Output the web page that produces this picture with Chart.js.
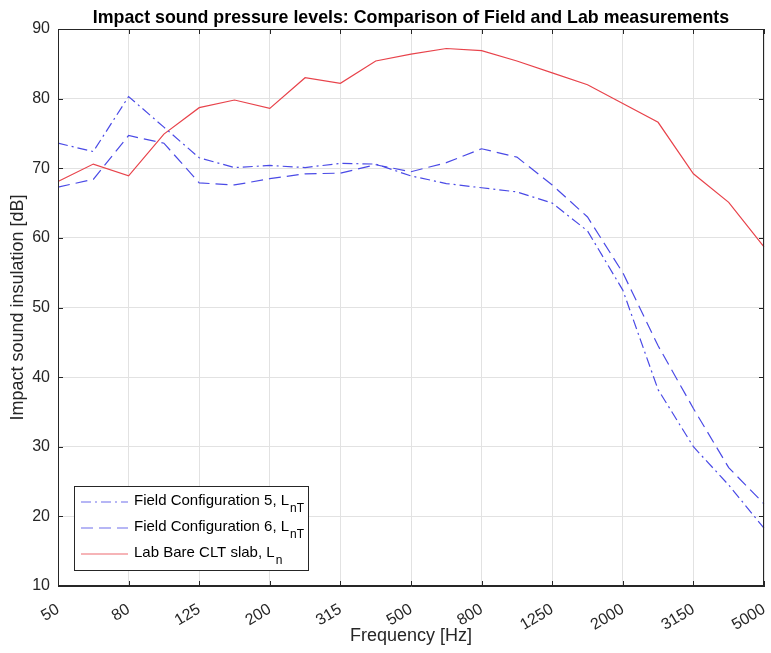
<!DOCTYPE html>
<html>
<head>
<meta charset="utf-8">
<script src="https://cdn.jsdelivr.net/npm/chart.js@4.4.0/dist/chart.umd.min.js"></script>
<style>
    html, body { margin: 0; padding: 0; background: #fff; }
</style>
</head>
<body>
<canvas id="chart" width="771" height="653"></canvas>
<script>
// Third-octave band centre frequencies [Hz]
const frequencies = ['50', '63', '80', '100', '125', '160', '200', '250', '315', '400', '500',
    '630', '800', '1000', '1250', '1600', '2000', '2500', '3150', '4000', '5000'];

// Levels [dB]
const fieldConfig5 = [73.6, 72.4, 80.3, 75.9, 71.5, 70.1, 70.4, 70.1, 70.7, 70.6, 68.9,
    67.8, 67.2, 66.6, 65.0, 61.0, 52.5, 38.2, 30.0, 24.5, 18.3];
const fieldConfig6 = [67.3, 68.4, 74.7, 73.6, 67.9, 67.6, 68.5, 69.2, 69.3, 70.5, 69.5,
    70.8, 72.8, 71.6, 67.6, 63.0, 55.0, 44.5, 35.5, 27.0, 21.8];
const labBareClt = [68.1, 70.6, 68.9, 74.9, 78.7, 79.8, 78.6, 83.0, 82.2, 85.4, 86.4,
    87.2, 86.9, 85.4, 83.7, 82.0, 79.3, 76.6, 69.2, 65.1, 58.7];

const yTicks = [10, 20, 30, 40, 50, 60, 70, 80, 90];

const FONT = "'Liberation Sans', Arial, Helvetica, sans-serif";
const AXIS_COLOR = '#262626';
const GRID_COLOR = '#e2e2e2';
const BLUE = '#4a4ae6';
const RED = '#e8434b';
const DASH_DOT = [10, 4, 2, 4];
const DASHED = [12, 6];

// Series for the legend box
const legendItems = [
    { text: 'Field Configuration 5, L', sub: 'nT', color: BLUE, dash: DASH_DOT },
    { text: 'Field Configuration 6, L', sub: 'nT', color: BLUE, dash: DASHED },
    { text: 'Lab Bare CLT slab, L', sub: 'n', color: RED, dash: [] }
];

// Title, box, inward ticks and legend drawn on top of the chart
const matlabLook = {
    id: 'matlabLook',
    afterDatasetsDraw(chart) {
        const ctx = chart.ctx;
        const area = chart.chartArea;
        const xScale = chart.scales.x;
        const yScale = chart.scales.y;

        ctx.save();

        // Box
        ctx.strokeStyle = AXIS_COLOR;
        ctx.lineWidth = 1;
        ctx.setLineDash([]);
        ctx.strokeRect(Math.round(area.left) + 0.5, Math.round(area.top) + 0.5,
            Math.round(area.right - area.left) - 1, Math.round(area.bottom - area.top) - 1);

        // Inward tick marks
        const tickLen = 5;
        ctx.beginPath();
        frequencies.forEach((f, i) => {
            if (i % 2 !== 0) return;
            const x = Math.round(xScale.getPixelForValue(i)) + 0.5;
            ctx.moveTo(x, area.bottom);
            ctx.lineTo(x, area.bottom - tickLen);
            ctx.moveTo(x, area.top);
            ctx.lineTo(x, area.top + tickLen);
        });
        yTicks.forEach(v => {
            const y = Math.round(yScale.getPixelForValue(v)) + 0.5;
            ctx.moveTo(area.left, y);
            ctx.lineTo(area.left + tickLen, y);
            ctx.moveTo(area.right, y);
            ctx.lineTo(area.right - tickLen, y);
        });
        ctx.stroke();

        // Legend box
        const bx = 74.5, by = 486.5, bw = 234, bh = 84;
        ctx.fillStyle = '#ffffff';
        ctx.fillRect(bx, by, bw, bh);
        ctx.strokeStyle = AXIS_COLOR;
        ctx.strokeRect(bx, by, bw, bh);

        legendItems.forEach((item, i) => {
            const rowY = 502 + i * 26;
            ctx.strokeStyle = item.color;
            ctx.globalAlpha = 0.8;
            ctx.lineWidth = 1.2;
            ctx.setLineDash(item.dash);
            ctx.beginPath();
            ctx.moveTo(81, rowY);
            ctx.lineTo(128, rowY);
            ctx.stroke();
            ctx.setLineDash([]);
            ctx.globalAlpha = 1;

            ctx.fillStyle = '#000000';
            ctx.textAlign = 'left';
            ctx.textBaseline = 'alphabetic';
            ctx.font = '15px ' + FONT;
            ctx.fillText(item.text, 134, rowY + 3);
            const w = ctx.measureText(item.text).width;
            ctx.font = '12px ' + FONT;
            ctx.fillText(item.sub, 134 + w + 1, rowY + 10);
        });

        // Title, centred on the plot area
        ctx.fillStyle = '#000000';
        ctx.font = 'bold 17.8px ' + FONT;
        ctx.textAlign = 'center';
        ctx.textBaseline = 'alphabetic';
        ctx.fillText('Impact sound pressure levels: Comparison of Field and Lab measurements',
            (area.left + area.right) / 2, 23);

        ctx.restore();
    }
};

const ctx = document.getElementById('chart').getContext('2d');

new Chart(ctx, {
    type: 'line',
    data: {
        labels: frequencies,
        datasets: [
            {
                label: 'Field Configuration 5, LnT',
                data: fieldConfig5,
                borderColor: BLUE,
                borderWidth: 1.2,
                borderDash: DASH_DOT,
                pointRadius: 0,
                tension: 0,
                fill: false
            },
            {
                label: 'Field Configuration 6, LnT',
                data: fieldConfig6,
                borderColor: BLUE,
                borderWidth: 1.2,
                borderDash: DASHED,
                pointRadius: 0,
                tension: 0,
                fill: false
            },
            {
                label: 'Lab Bare CLT slab, Ln',
                data: labBareClt,
                borderColor: RED,
                borderWidth: 1.2,
                pointRadius: 0,
                tension: 0,
                fill: false
            }
        ]
    },
    options: {
        responsive: false,
        animation: false,
        layout: {
            padding: { top: 29, right: 7, left: 0, bottom: 0 }
        },
        plugins: {
            legend: { display: false },
            title: { display: false },
            tooltip: { enabled: false }
        },
        scales: {
            x: {
                type: 'category',
                offset: false,
                afterFit: function (scale) {
                    scale.height = 67;
                    scale.paddingLeft = 0;
                    scale.paddingRight = 0;
                },
                grid: {
                    color: GRID_COLOR,
                    drawTicks: false
                },
                border: { color: AXIS_COLOR, width: 1 },
                ticks: {
                    autoSkip: false,
                    maxRotation: 31,
                    minRotation: 31,
                    padding: 14,
                    color: AXIS_COLOR,
                    font: { family: FONT, size: 16 },
                    callback: function (value, index) {
                        return index % 2 === 0 ? frequencies[index] : null;
                    }
                },
                title: {
                    display: true,
                    text: 'Frequency [Hz]',
                    color: AXIS_COLOR,
                    font: { family: FONT, size: 18 },
                    padding: { top: 4, bottom: 6 }
                }
            },
            y: {
                min: 10,
                max: 90,
                afterFit: function (scale) {
                    scale.width = 58;
                },
                afterBuildTicks: function (scale) {
                    scale.ticks = yTicks.map(v => ({ value: v }));
                },
                grid: {
                    color: GRID_COLOR,
                    drawTicks: false
                },
                border: { color: AXIS_COLOR, width: 1 },
                ticks: {
                    padding: 8,
                    color: AXIS_COLOR,
                    font: { family: FONT, size: 16 }
                },
                title: {
                    display: true,
                    text: 'Impact sound insulation [dB]',
                    color: AXIS_COLOR,
                    font: { family: FONT, size: 18 },
                    padding: { top: 7, bottom: 0 }
                }
            }
        }
    },
    plugins: [matlabLook]
});
</script>
</body>
</html>
